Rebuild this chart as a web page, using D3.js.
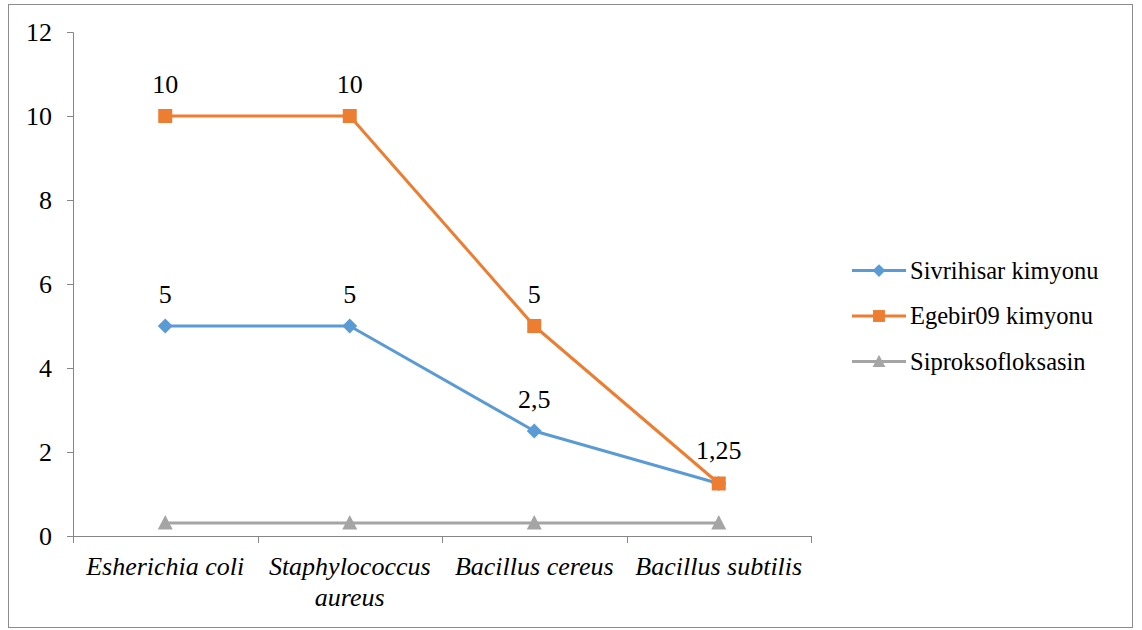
<!DOCTYPE html>
<html>
<head>
<meta charset="utf-8">
<script src="https://cdn.jsdelivr.net/npm/d3@7"></script>
<style>
  body { margin: 0; background: #fff; }
</style>
</head>
<body>
<div id="chart"></div>
<script>
// categories and series
var categories = ["Esherichia coli", "Staphylococcus aureus", "Bacillus cereus", "Bacillus subtilis"];
var seriesNames = ["Sivrihisar kimyonu", "Egebir09 kimyonu", "Siproksofloksasin"];
var sivrihisar = [5, 5, 2.5, 1.25];
var egebir = [10, 10, 5, 1.25];
var siprok = [0.31, 0.31, 0.31, 0.31];
var yTicks = [0, 2, 4, 6, 8, 10, 12];

var FONT = "Liberation Serif";
var colors = ["#5B9BD5", "#ED7D31", "#A5A5A5"];

// marker shapes: diamond, square, triangle
function marker(k, s) {
  s = s || 1;
  if (k === 0) return "M0," + (-7.5 * s) + "L" + (7.5 * s) + ",0L0," + (7.5 * s) + "L" + (-7.5 * s) + ",0Z";
  if (k === 1) return "M" + (-7 * s) + "," + (-7 * s) + "H" + (7 * s) + "V" + (7 * s) + "H" + (-7 * s) + "Z";
  return "M0," + (-8 * s) + "L" + (7.5 * s) + "," + (6.5 * s) + "H" + (-7.5 * s) + "Z";
}

var series = [
  { name: seriesNames[0], values: sivrihisar },
  { name: seriesNames[1], values: egebir },
  { name: seriesNames[2], values: siprok }
];

var outerWidth = 1142, outerHeight = 630;
var margin = { left: 73, top: 32, right: 331, bottom: 94 };
var innerWidth = outerWidth - margin.left - margin.right;
var innerHeight = outerHeight - margin.top - margin.bottom;

var svg = d3.select("#chart").append("svg")
  .attr("width", outerWidth)
  .attr("height", outerHeight);

svg.append("rect")
  .attr("x", 8.5).attr("y", 4.5)
  .attr("width", 1124).attr("height", 623)
  .attr("fill", "none")
  .attr("stroke", "#8c8c8c")
  .attr("stroke-width", 1);

var g = svg.append("g")
  .attr("transform", "translate(" + margin.left + "," + margin.top + ")");

var x = d3.scaleBand().domain(categories).range([0, innerWidth]).padding(0);
var y = d3.scaleLinear().domain([0, 12]).range([innerHeight, 0]);
function cx(c) { return x(c) + x.bandwidth() / 2; }

// y axis
var yAxis = g.append("g")
  .call(d3.axisLeft(y).tickValues(yTicks).tickSize(6).tickPadding(15))
  .attr("font-family", FONT)
  .attr("font-size", 26);
yAxis.select(".domain").attr("stroke", "#868686");
yAxis.selectAll(".tick line").attr("stroke", "#868686");
yAxis.selectAll(".tick text")
  .attr("fill", "#000")
  .attr("font-family", FONT)
  .attr("font-size", 26);

// x axis: ticks at band boundaries
var xAxis = g.append("g")
  .attr("transform", "translate(0," + innerHeight + ")");
xAxis.append("line")
  .attr("x1", 0).attr("x2", innerWidth)
  .attr("y1", 0.5).attr("y2", 0.5)
  .attr("stroke", "#868686");
var bounds = categories.map(function (c) { return x(c); }).concat([innerWidth]);
xAxis.selectAll("line.tk")
  .data(bounds)
  .enter().append("line")
  .attr("class", "tk")
  .attr("x1", function (d) { return Math.round(d) + 0.5; })
  .attr("x2", function (d) { return Math.round(d) + 0.5; })
  .attr("y1", 0).attr("y2", 7)
  .attr("stroke", "#868686");

// category labels (wrap "Staphylococcus aureus")
var catLines = { "Staphylococcus aureus": ["Staphylococcus", "aureus"] };
categories.forEach(function (c) {
  var lines = catLines[c] || [c];
  lines.forEach(function (l, i) {
    xAxis.append("text")
      .attr("x", cx(c))
      .attr("y", 39 + i * 31)
      .attr("text-anchor", "middle")
      .attr("font-family", FONT)
      .attr("font-style", "italic")
      .attr("font-size", 26)
      .attr("fill", "#000")
      .text(l);
  });
});

// lines and markers
var line = d3.line()
  .x(function (d, i) { return cx(categories[i]); })
  .y(function (d) { return y(d); });

// draw grey first, then blue, then orange on top
[2, 0, 1].forEach(function (k) {
  var s = series[k];
  var sg = g.append("g");
  sg.append("path")
    .attr("d", line(s.values))
    .attr("fill", "none")
    .attr("stroke", colors[k])
    .attr("stroke-width", 3)
    .attr("stroke-linejoin", "round");
  sg.selectAll("path.pt")
    .data(s.values)
    .enter().append("path")
    .attr("class", "pt")
    .attr("transform", function (d, i) { return "translate(" + cx(categories[i]) + "," + y(d) + ")"; })
    .attr("d", marker(k))
    .attr("fill", colors[k]);
});

// data labels
[0, 1].forEach(function (k) {
  var s = series[k];
  g.selectAll(null)
    .data(s.values.map(function (v, i) { return { v: v, i: i }; }).filter(function (d) {
      // shared point at Bacillus subtilis is labelled once
      return !(k === 0 && d.i === 3);
    }))
    .enter().append("text")
    .attr("x", function (d) { return cx(categories[d.i]); })
    .attr("y", function (d) { return y(d.v) - (d.i === 3 ? 25 : 23); })
    .attr("text-anchor", "middle")
    .attr("font-family", FONT)
    .attr("font-size", 26)
    .attr("fill", "#000")
    .text(function (d) { return String(d.v).replace(".", ","); });
});

// legend
var legend = svg.append("g").attr("transform", "translate(852,270.5)");
series.forEach(function (s, k) {
  var row = legend.append("g").attr("transform", "translate(0," + (k * 45.5) + ")");
  row.append("line")
    .attr("x1", 0).attr("x2", 54).attr("y1", 0).attr("y2", 0)
    .attr("stroke", colors[k]).attr("stroke-width", 3);
  row.append("path")
    .attr("transform", "translate(27,0)")
    .attr("d", marker(k, 0.85))
    .attr("fill", colors[k]);
  row.append("text")
    .attr("x", 58).attr("y", 8)
    .attr("font-family", FONT)
    .attr("font-size", 24.5)
    .attr("fill", "#000")
    .text(s.name);
});
</script>
</body>
</html>
